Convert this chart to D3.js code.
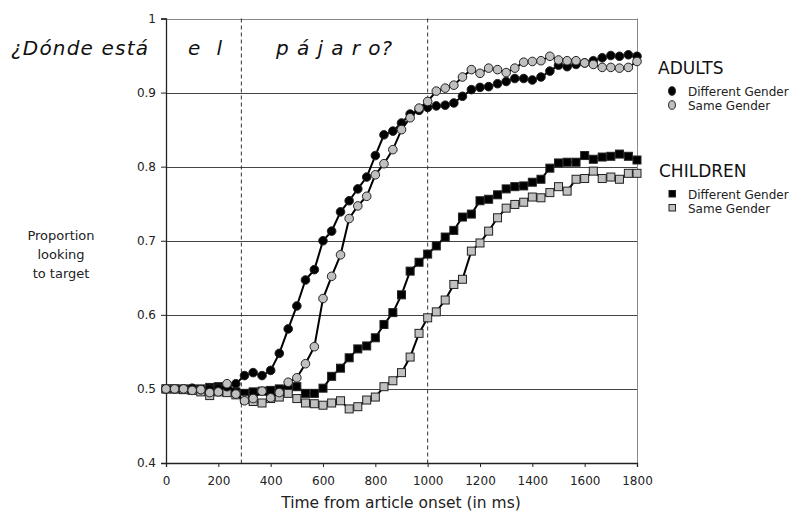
<!DOCTYPE html>
<html>
<head>
<meta charset="utf-8">
<script src="https://cdn.jsdelivr.net/npm/d3@7"></script>
<style>
  body { margin: 0; background: #fff; }
  svg { display: block; font-family: "DejaVu Sans", Verdana, sans-serif; }
</style>
</head>
<body>
<script>
// time points (ms from article onset), one every frame (~33 ms)
const times = [0, 33, 67, 100, 133, 167, 200, 233, 267, 300, 333, 367, 400, 433, 467, 500, 533, 567,
  600, 633, 667, 700, 733, 767, 800, 833, 867, 900, 933, 967, 1000, 1033, 1067, 1100, 1133, 1167,
  1200, 1233, 1267, 1300, 1333, 1367, 1400, 1433, 1467, 1500, 1533, 1567, 1600, 1633, 1667, 1700,
  1733, 1767, 1800]

const adultsDifferent = [0.500, 0.500, 0.500, 0.501, 0.499, 0.500, 0.501, 0.503, 0.507, 0.518, 0.522,
  0.518, 0.525, 0.548, 0.581, 0.612, 0.647, 0.661, 0.700, 0.713, 0.739, 0.754, 0.770, 0.786, 0.815,
  0.843, 0.848, 0.859, 0.871, 0.876, 0.880, 0.882, 0.883, 0.886, 0.895, 0.904, 0.907, 0.908, 0.912,
  0.915, 0.919, 0.919, 0.917, 0.921, 0.929, 0.937, 0.935, 0.938, 0.940, 0.943, 0.947, 0.950, 0.949,
  0.951, 0.949]

const adultsSame = [0.500, 0.500, 0.500, 0.498, 0.499, 0.495, 0.496, 0.507, 0.493, 0.484, 0.487,
  0.497, 0.488, 0.495, 0.509, 0.515, 0.534, 0.557, 0.622, 0.652, 0.681, 0.730, 0.747, 0.760, 0.789,
  0.804, 0.823, 0.850, 0.866, 0.879, 0.888, 0.902, 0.906, 0.910, 0.921, 0.931, 0.926, 0.933, 0.931,
  0.927, 0.933, 0.941, 0.942, 0.943, 0.949, 0.944, 0.943, 0.943, 0.940, 0.938, 0.934, 0.934, 0.933,
  0.934, 0.942]

const childrenDifferent = [0.500, 0.500, 0.500, 0.500, 0.500, 0.502, 0.503, 0.497, 0.496, 0.494, 0.496,
  0.497, 0.498, 0.500, 0.500, 0.503, 0.494, 0.494, 0.501, 0.517, 0.528, 0.542, 0.554, 0.558, 0.569,
  0.587, 0.603, 0.627, 0.659, 0.671, 0.682, 0.693, 0.705, 0.714, 0.732, 0.736, 0.754, 0.756, 0.762,
  0.770, 0.773, 0.774, 0.779, 0.783, 0.798, 0.805, 0.806, 0.806, 0.815, 0.810, 0.813, 0.814, 0.817,
  0.814, 0.809]

const childrenSame = [0.500, 0.500, 0.499, 0.498, 0.496, 0.491, 0.496, 0.495, 0.492, 0.486, 0.483,
  0.481, 0.487, 0.489, 0.494, 0.487, 0.481, 0.480, 0.478, 0.481, 0.484, 0.473, 0.476, 0.485, 0.489,
  0.503, 0.511, 0.522, 0.543, 0.575, 0.596, 0.604, 0.620, 0.641, 0.648, 0.686, 0.697, 0.713, 0.731,
  0.744, 0.749, 0.752, 0.759, 0.758, 0.765, 0.773, 0.767, 0.783, 0.784, 0.794, 0.784, 0.786, 0.783,
  0.791, 0.791]

const xTicks = [0, 200, 400, 600, 800, 1000, 1200, 1400, 1600, 1800]
const yTicks = [0.4, 0.5, 0.6, 0.7, 0.8, 0.9, 1]
const wordOnsets = [288, 1000]

const W = 808, H = 514
const plotLeft = 166, plotRight = 637, plotTop = 18.5, plotBottom = 463

const x = d3.scaleLinear().domain([0, 1800]).range([plotLeft, plotRight])
const y = d3.scaleLinear().domain([0.4, 1]).range([plotBottom, plotTop])

const svg = d3.select("body").append("svg")
    .attr("width", W)
    .attr("height", H)

// grid lines
svg.append("g").selectAll("line")
    .data(yTicks.slice(1))
    .join("line")
    .attr("x1", plotLeft).attr("x2", plotRight)
    .attr("y1", d => Math.round(y(d)) + 0.5).attr("y2", d => Math.round(y(d)) + 0.5)
    .attr("stroke", d => d === 1 ? "#888" : "#444")
    .attr("stroke-width", 1)

// right border
svg.append("line")
    .attr("x1", plotRight + 0.5).attr("x2", plotRight + 0.5)
    .attr("y1", y(1)).attr("y2", plotBottom)
    .attr("stroke", "#888")

// dashed lines at word onsets
svg.append("g").selectAll("line")
    .data(wordOnsets)
    .join("line")
    .attr("x1", d => x(d)).attr("x2", d => x(d))
    .attr("y1", y(1)).attr("y2", plotBottom)
    .attr("stroke", "#333")
    .attr("stroke-dasharray", "4,3")

// axes
const xAxis = svg.append("g")
    .attr("transform", "translate(0," + plotBottom + ")")
    .call(d3.axisBottom(x).tickValues(xTicks).tickSize(4).tickPadding(9).tickFormat(d3.format("d")))
const yAxis = svg.append("g")
    .attr("transform", "translate(" + plotLeft + ",0)")
    .call(d3.axisLeft(y).tickValues(yTicks).tickSize(5).tickPadding(5).tickFormat(d => d === 1 ? "1" : d3.format(".1f")(d)))
for (const a of [xAxis, yAxis]) {
    a.select(".domain").attr("stroke", "#222").attr("stroke-width", 1.3)
    a.selectAll(".tick line").attr("stroke", "#222")
    a.selectAll("text").attr("font-size", 12).attr("font-family", "DejaVu Sans").attr("fill", "#222")
}

// series
const series = [
    { values: childrenDifferent, shape: "square", fill: "#000" },
    { values: childrenSame, shape: "square", fill: "#c0c0c0" },
    { values: adultsDifferent, shape: "circle", fill: "#000" },
    { values: adultsSame, shape: "circle", fill: "#c0c0c0" },
]

const line = d3.line()
    .x(function (d, i) { return x(times[i]) })
    .y(function (d) { return y(d) })

for (const s of series) {
    const g = svg.append("g")
    g.append("path")
        .datum(s.values)
        .attr("d", line)
        .attr("fill", "none")
        .attr("stroke", "#000")
        .attr("stroke-width", 2)
    if (s.shape === "circle") {
        g.selectAll("circle")
            .data(s.values)
            .join("circle")
            .attr("cx", (d, i) => x(times[i]))
            .attr("cy", d => y(d))
            .attr("r", 4.3)
            .attr("fill", s.fill)
            .attr("stroke", "#222")
            .attr("stroke-width", 1)
    } else {
        g.selectAll("rect")
            .data(s.values)
            .join("rect")
            .attr("x", (d, i) => x(times[i]) - 4)
            .attr("y", d => y(d) - 4)
            .attr("width", 8)
            .attr("height", 8)
            .attr("fill", s.fill)
            .attr("stroke", "#222")
            .attr("stroke-width", 1)
    }
}

// sentence text
const sentence = [
    { text: "¿Dónde está", x0: 11, x1: 148 },
    { text: "e l", x0: 188, x1: 222 },
    { text: "p á j a r o?", x0: 276, x1: 392 },
]
svg.append("g").selectAll("text")
    .data(sentence)
    .join("text")
    .attr("x", d => d.x0)
    .attr("y", 55)
    .attr("font-size", 20)
    .attr("font-style", "italic")
    .attr("fill", "#111")
    .attr("textLength", d => d.x1 - d.x0)
    .attr("lengthAdjust", "spacing")
    .text(d => d.text)

// axis titles
svg.append("text")
    .attr("x", 401)
    .attr("y", 508)
    .attr("text-anchor", "middle")
    .attr("font-size", 15.5)
    .attr("fill", "#222")
    .text("Time from article onset (in ms)")

svg.append("text")
    .attr("text-anchor", "middle")
    .attr("font-size", 13)
    .attr("fill", "#222")
    .selectAll("tspan")
    .data(["Proportion", "looking", "to target"])
    .join("tspan")
    .attr("x", 61)
    .attr("y", (d, i) => 240 + i * 19)
    .text(d => d)

// legend
const legend = svg.append("g")
legend.append("text").attr("x", 658).attr("y", 74).attr("font-size", 17).attr("fill", "#111").text("ADULTS")
legend.append("text").attr("x", 659).attr("y", 177).attr("font-size", 17).attr("fill", "#111").text("CHILDREN")

const legendItems = [
    { label: "Different Gender", shape: "circle", fill: "#000", y: 91 },
    { label: "Same Gender", shape: "circle", fill: "#c0c0c0", y: 105 },
    { label: "Different Gender", shape: "square", fill: "#000", y: 194 },
    { label: "Same Gender", shape: "square", fill: "#c0c0c0", y: 208 },
]
for (const it of legendItems) {
    if (it.shape === "circle") {
        legend.append("ellipse")
            .attr("cx", 672).attr("cy", it.y)
            .attr("rx", 3.4).attr("ry", 4.3)
            .attr("fill", it.fill).attr("stroke", "#222")
    } else {
        legend.append("rect")
            .attr("x", 669).attr("y", it.y - 3.5)
            .attr("width", 6.5).attr("height", 6.5)
            .attr("fill", it.fill).attr("stroke", "#222")
    }
    legend.append("text")
        .attr("x", 688).attr("y", it.y + 4.5)
        .attr("font-size", 12)
        .attr("fill", "#222")
        .text(it.label)
}
</script>
</body>
</html>
